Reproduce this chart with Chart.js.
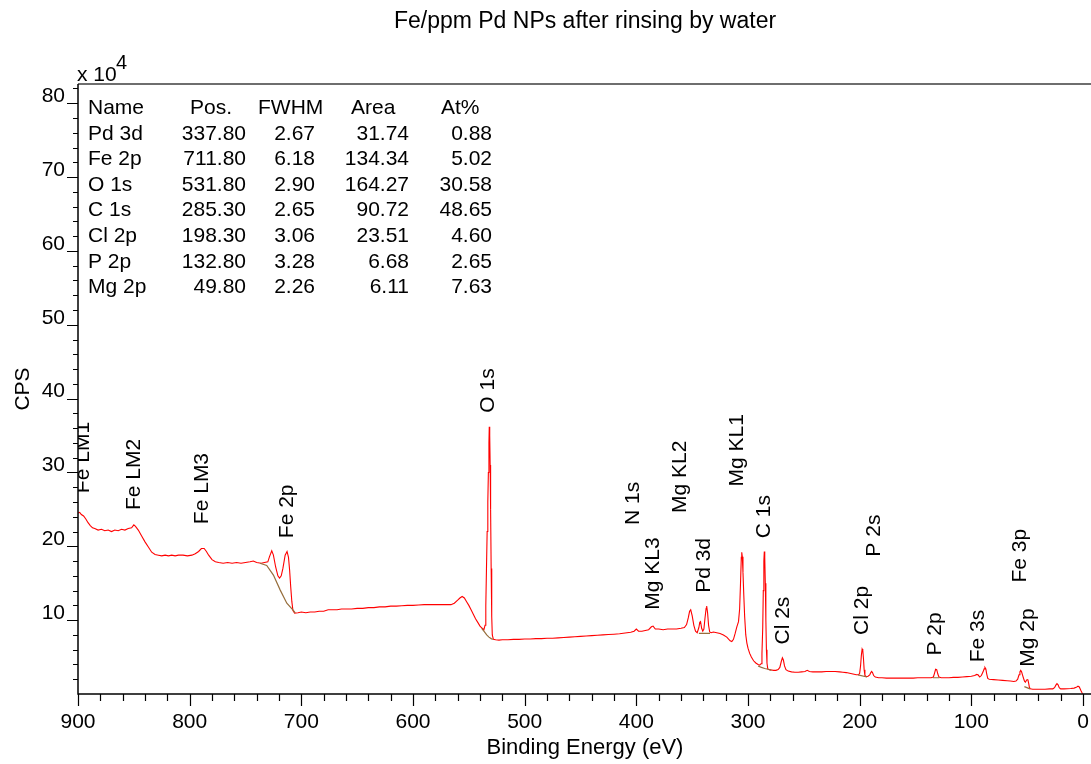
<!DOCTYPE html>
<html>
<head>
<meta charset="utf-8">
<title>Fe/ppm Pd NPs after rinsing by water</title>
<script src="https://cdn.jsdelivr.net/npm/chart.js@4.4.1/dist/chart.umd.min.js"></script>
<style>
  html, body { margin: 0; padding: 0; background: #fff; }
  #wrap { width: 1091px; height: 764px; }
</style>
</head>
<body>
<div id="wrap"><canvas id="xpsChart" width="1091" height="764"></canvas></div>
<script>
// Survey spectrum: binding energy (eV) and counts (x 10^4 CPS)
const energy = [
  900, 898.5, 897, 895, 893, 891, 889, 887, 885, 882, 879, 876, 873, 870, 867, 864, 861, 858, 855, 852,
  850, 848.5, 846, 843, 840, 837, 834, 831, 828, 825, 822, 819, 816, 813, 810, 806, 802, 798, 795, 792,
  789.5, 787, 785, 783, 780, 777, 774, 770, 766, 762, 758, 754, 750, 746, 743, 740, 736, 733, 730, 728.5,
  726.5, 725, 723, 721, 719.5, 718, 716.5, 714.5, 712.8, 711.5, 710.5, 709.5, 708.5, 707.5, 706, 703, 700, 696, 692, 688,
  684, 680, 676, 672, 668, 664, 660, 655, 650, 645, 640, 635, 630, 625, 620, 615, 610, 605, 600, 595,
  590, 585, 580, 575, 570, 566, 563, 560, 558, 556, 554, 552, 550, 548, 546, 544, 542, 540, 538, 536.5,
  535.5, 534.8, 534.2, 533.6, 533, 532.5, 532, 531.7, 531.3, 530.9, 530.5, 530, 529.5, 529, 528, 526, 523, 520, 515, 510,
  505, 500, 495, 490, 485, 480, 475, 470, 465, 460, 455, 450, 445, 440, 435, 430, 425, 420, 415, 410,
  405, 402, 400, 398, 395, 392, 389, 386.5, 385, 383, 380, 376, 372, 368, 364, 360, 357, 355, 353.5, 352.3,
  351.3, 350, 348.5, 347, 345.5, 344, 343.2, 342.5, 341.5, 340.5, 339.5, 338.5, 337.5, 337, 336.2, 335.3, 334.3, 333, 331, 328,
  325, 322, 319, 316, 314.5, 313, 311.5, 310, 308.5, 307.5, 306.7, 306, 305.6, 305.1, 304.5, 303.8, 303, 302, 301, 300,
  298.5, 297, 295, 293, 291, 289.5, 288.3, 287.5, 286.8, 286.3, 285.8, 285.4, 285, 284.5, 284, 283.5, 283, 282.3, 281, 279,
  277, 275, 273, 271.5, 270.2, 269.2, 268.3, 267.3, 266, 264, 261, 258, 255, 252, 249, 247, 245, 242, 238, 234,
  230, 226, 222, 218, 215, 212, 209, 206, 203, 201, 200, 199.2, 198.5, 197.8, 197.2, 196.6, 196, 195.3, 194, 192.5,
  191, 190, 189.3, 188.5, 187.5, 186, 183, 180, 176, 172, 168, 164, 160, 156, 152, 148, 144, 140, 136, 134,
  133, 132, 131, 130, 129, 127, 124, 120, 116, 112, 108, 104, 100, 97, 95.2, 94, 92.5, 91, 89.5, 88.5,
  87.8, 87, 86.2, 85.3, 84, 80, 76, 72, 68, 65, 62, 60, 58.5, 57.3, 56.5, 55.8, 55, 54.2, 53.2, 52.3,
  51.5, 50.7, 50, 49.3, 48.6, 48, 47.3, 45, 42, 38, 34, 30, 27, 25.5, 24.3, 23.3, 22.3, 21.3, 20, 17,
  14, 11, 8, 6, 4.5, 3.3, 2, 1, 0.3
];
const cps = [
  24.5, 24.6, 24.3, 24.1, 23.7, 23.2, 22.8, 22.5, 22.4, 22.2, 22.3, 22.1, 22.2, 22.0, 22.2, 22.1, 22.3, 22.2, 22.4, 22.5,
  22.9, 22.7, 22.2, 21.4, 20.6, 19.9, 19.2, 18.9, 18.8, 18.7, 18.8, 18.7, 18.8, 18.7, 18.8, 18.8, 18.7, 18.8, 19.0, 19.3,
  19.7, 19.7, 19.3, 18.8, 18.2, 17.9, 17.8, 17.7, 17.8, 17.7, 17.8, 17.7, 17.8, 17.9, 18.0, 17.8, 17.7, 17.8, 17.9, 18.6,
  19.4, 18.8, 17.2, 16.0, 15.7, 16.0, 17.0, 18.8, 19.3, 18.5, 16.8, 14.5, 12.5, 11.3, 10.95, 11.0, 11.1, 11.0, 11.1, 11.1,
  11.2, 11.2, 11.4, 11.4, 11.4, 11.5, 11.5, 11.5, 11.6, 11.6, 11.7, 11.7, 11.8, 11.8, 11.9, 11.9, 11.95, 12.0, 12.0, 12.05,
  12.1, 12.1, 12.1, 12.1, 12.1, 12.1, 12.3, 12.7, 13.0, 13.2, 13.0, 12.5, 12.0, 11.4, 10.8, 10.2, 9.7, 9.2, 8.9, 8.7,
  9.3, 12, 17, 22, 26, 30, 34, 36.2, 35, 31, 25, 17, 10.5, 8, 7.4, 7.35, 7.3, 7.35, 7.35, 7.4,
  7.4, 7.45, 7.45, 7.5, 7.5, 7.55, 7.55, 7.6, 7.65, 7.7, 7.75, 7.8, 7.85, 7.9, 7.95, 8.0, 8.05, 8.1, 8.15, 8.25,
  8.35, 8.5, 8.8, 8.5, 8.5, 8.6, 8.7, 9.1, 9.2, 8.8, 8.8, 8.7, 8.8, 8.8, 8.8, 8.9, 9.0, 9.4, 10.3, 11.2,
  11.4, 10.6, 9.3, 8.5, 8.3, 9.0, 9.7, 9.8, 8.9, 8.5, 8.8, 10.3, 11.6, 11.9, 11.0, 9.3, 8.4, 8.3, 8.4, 8.3,
  8.2, 8.0, 7.7, 7.2, 7.1, 7.4, 8.2, 9.1, 9.8, 11.5, 15, 18.5, 19.2, 18.6, 16.5, 13.5, 10.5, 8.0, 6.9, 6.2,
  5.5, 5.0, 4.5, 4.2, 4.0, 3.9, 4.1, 5.5, 9, 14, 18, 19.3, 18.5, 15, 10, 6, 4.2, 3.4, 3.3, 3.25,
  3.2, 3.2, 3.3, 3.6, 4.4, 4.9, 4.6, 3.8, 3.3, 3.1, 3.0, 2.95, 2.95, 3.0, 3.05, 3.2, 3.05, 3.0, 3.0, 3.0,
  3.05, 3.05, 3.05, 3.0, 2.95, 2.9, 2.8, 2.7, 2.6, 2.6, 2.8, 3.8, 5.2, 6.1, 5.9, 4.8, 3.3, 2.5, 2.35, 2.4,
  2.6, 2.9, 3.05, 2.9, 2.5, 2.3, 2.2, 2.2, 2.15, 2.15, 2.15, 2.15, 2.15, 2.15, 2.15, 2.2, 2.2, 2.2, 2.2, 2.3,
  2.8, 3.35, 3.3, 2.7, 2.3, 2.2, 2.2, 2.2, 2.25, 2.25, 2.3, 2.35, 2.4, 2.5, 2.65, 2.6, 2.3, 2.5, 3.0, 3.4,
  3.6, 3.4, 2.7, 2.1, 2.0, 1.95, 1.9, 1.85, 1.8, 1.75, 1.7, 1.75, 2.0, 2.6, 3.0, 3.2, 3.0, 2.6, 2.1, 1.7,
  1.6, 1.85, 1.95, 1.9, 1.4, 0.9, 0.7, 0.65, 0.65, 0.65, 0.65, 0.7, 0.7, 0.85, 1.2, 1.4, 1.25, 0.85, 0.7, 0.7,
  0.72, 0.75, 0.8, 0.9, 1.05, 0.95, 0.5, 0.2, 0.05
];

// Background lines under the fitted regions (null = gap between regions)
const bgEnergy = [737, 731, 725, 719, 713, 707, 705.5, 620, 538.5, 536, 534, 532, 530, 528.5, 440, 344, 334, 320,
  291, 288, 285, 282, 279, 240, 201.5, 193.5, 160, 134.5, 128.5, 90, 52.5, 47.5];
const bgCps = [17.7, 17.4, 16.1, 14.1, 12.3, 11.3, 11.0, null, 8.9, 8.4, 8.0, 7.7, 7.5, 7.4, null, 8.2, 8.2, null,
  3.8, 3.6, 3.45, 3.35, 3.2, null, 2.6, 2.3, null, 2.2, 2.2, null, 1.0, 0.7];

// Peak annotations: name, energy (eV) and height of the label start (x 10^4)
const peakNames = ['Fe LM1', 'Fe LM2', 'Fe LM3', 'Fe 2p', 'O 1s', 'N 1s', 'Mg KL3', 'Mg KL2', 'Pd 3d', 'Mg KL1',
  'C 1s', 'Cl 2s', 'Cl 2p', 'P 2s', 'P 2p', 'Fe 3s', 'Fe 3p', 'Mg 2p'];
const peakEnergy = [895.2, 850, 789, 713, 532.5, 402.7, 384.8, 360.9, 339.4, 309.6,
  285.7, 268.9, 197.3, 187.2, 132.5, 93.8, 55.8, 49];
const peakLabelY = [27.2, 24.9, 23.0, 21.1, 38.1, 22.9, 11.4, 24.5, 13.7, 28.1,
  21.1, 6.7, 8.0, 18.6, 5.2, 4.3, 15.1, 3.7];

// Quantification table
const tableHead = ['Name', 'Pos.', 'FWHM', 'Area', 'At%'];
const tableName = ['Pd 3d', 'Fe 2p', 'O 1s', 'C 1s', 'Cl 2p', 'P 2p', 'Mg 2p'];
const tablePos = ['337.80', '711.80', '531.80', '285.30', '198.30', '132.80', '49.80'];
const tableFwhm = ['2.67', '6.18', '2.90', '2.65', '3.06', '3.28', '2.26'];
const tableArea = ['31.74', '134.34', '164.27', '90.72', '23.51', '6.68', '6.11'];
const tableAt = ['0.88', '5.02', '30.58', '48.65', '4.60', '2.65', '7.63'];

// Axis ticks
const xTicks = [900, 800, 700, 600, 500, 400, 300, 200, 100, 0];
const yTicks = [10, 20, 30, 40, 50, 60, 70, 80];

const FONT = "'Liberation Sans', Arial, sans-serif";

const spectrum = energy.map((e, i) => ({ x: e, y: cps[i] }));
const background = bgEnergy.map((e, i) => ({ x: e, y: bgCps[i] }));

// draws frame, tick marks, titles, table and peak labels
const xpsDecor = {
  id: 'xpsDecor',
  afterDraw(chart) {
    const ctx = chart.ctx;
    const xs = chart.scales.x, ys = chart.scales.y;
    const a = chart.chartArea;
    ctx.save();

    // frame
    ctx.strokeStyle = '#6e6e6e';
    ctx.lineWidth = 2;
    ctx.beginPath();
    ctx.moveTo(a.left, a.top);
    ctx.lineTo(chart.width, a.top);
    ctx.stroke();
    ctx.strokeStyle = '#000';
    ctx.lineWidth = 1.5;
    ctx.beginPath();
    ctx.moveTo(a.left, a.top);
    ctx.lineTo(a.left, a.bottom);
    ctx.lineTo(chart.width, a.bottom);
    ctx.stroke();

    // tick marks
    ctx.lineWidth = 1.2;
    ctx.beginPath();
    for (let v = 0; v <= 900; v += 20) {
      const px = Math.round(xs.getPixelForValue(v)) + 0.5;
      const len = v % 100 === 0 ? 12 : 7;
      ctx.moveTo(px, a.bottom);
      ctx.lineTo(px, a.bottom + len);
    }
    for (let v = 2; v <= 82; v += 2) {
      const py = Math.round(ys.getPixelForValue(v)) + 0.5;
      const len = v % 10 === 0 ? 11 : 5;
      ctx.moveTo(a.left, py);
      ctx.lineTo(a.left - len, py);
    }
    ctx.stroke();

    ctx.fillStyle = '#000';
    // titles
    ctx.textAlign = 'center';
    ctx.textBaseline = 'middle';
    ctx.font = '23px ' + FONT;
    ctx.fillText('Fe/ppm Pd NPs after rinsing by water', 585, 22);
    ctx.font = '22px ' + FONT;
    ctx.fillText('Binding Energy (eV)', 585, 748);

    // exponent
    ctx.font = '21px ' + FONT;
    ctx.textAlign = 'left';
    ctx.textBaseline = 'alphabetic';
    ctx.fillText('x 10', 77, 81);
    ctx.font = '20px ' + FONT;
    ctx.fillText('4', 116, 69);

    // y title
    ctx.save();
    ctx.translate(23, 389);
    ctx.rotate(-Math.PI / 2);
    ctx.font = '21px ' + FONT;
    ctx.textAlign = 'center';
    ctx.textBaseline = 'middle';
    ctx.fillText('CPS', 0, 0);
    ctx.restore();

    // table
    ctx.font = '21px ' + FONT;
    ctx.textBaseline = 'alphabetic';
    const base = 114, step = 25.6;
    ctx.textAlign = 'left';
    ctx.fillText(tableHead[0], 88, base);
    ctx.fillText(tableHead[1], 190, base);
    ctx.fillText(tableHead[2], 258, base);
    ctx.fillText(tableHead[3], 351, base);
    ctx.fillText(tableHead[4], 441, base);
    tableName.forEach((n, i) => {
      const yb = base + step * (i + 1);
      ctx.textAlign = 'left';
      ctx.fillText(n, 88, yb);
      ctx.textAlign = 'right';
      ctx.fillText(tablePos[i], 246, yb);
      ctx.fillText(tableFwhm[i], 315, yb);
      ctx.fillText(tableArea[i], 409, yb);
      ctx.fillText(tableAt[i], 492, yb);
    });

    // peak labels
    ctx.save();
    ctx.beginPath();
    ctx.rect(a.left, a.top, a.right - a.left, a.bottom - a.top);
    ctx.clip();
    ctx.font = '21px ' + FONT;
    ctx.textAlign = 'left';
    ctx.textBaseline = 'middle';
    peakNames.forEach((n, i) => {
      ctx.save();
      ctx.translate(xs.getPixelForValue(peakEnergy[i]), ys.getPixelForValue(peakLabelY[i]));
      ctx.rotate(-Math.PI / 2);
      ctx.fillText(n, 0, 0);
      ctx.restore();
    });
    ctx.restore();

    ctx.restore();
  }
};

const ctx = document.getElementById('xpsChart').getContext('2d');
const xpsChart = new Chart(ctx, {
  type: 'line',
  data: {
    datasets: [
      {
        label: 'Background',
        data: background,
        borderColor: 'rgb(150, 110, 60)',
        borderWidth: 1.2,
        pointRadius: 0,
        spanGaps: false,
        order: 0,
      },
      {
        label: 'Spectrum',
        data: spectrum,
        borderColor: '#ff0000',
        borderWidth: 1.1,
        pointRadius: 0,
        order: 1,
      },
    ],
  },
  options: {
    responsive: false,
    animation: false,
    layout: { padding: { top: 84, right: 8, left: 0, bottom: 0 } },
    plugins: {
      legend: { display: false },
      tooltip: { enabled: false },
      title: { display: false },
    },
    scales: {
      x: {
        type: 'linear',
        reverse: true,
        min: 0,
        max: 900,
        grid: { display: false, drawTicks: false },
        border: { display: false },
        afterBuildTicks: (s) => { s.ticks = xTicks.map(v => ({ value: v })); },
        afterFit: (s) => { s.height = 70; s.paddingLeft = 0; s.paddingRight = 0; },
        ticks: {
          font: { family: FONT, size: 21 },
          color: '#000',
          padding: 16,
          maxRotation: 0,
          autoSkip: false,
        },
      },
      y: {
        type: 'linear',
        min: 0,
        max: 82.6,
        grid: { display: false, drawTicks: false },
        border: { display: false },
        afterBuildTicks: (s) => { s.ticks = yTicks.map(v => ({ value: v })); },
        afterFit: (s) => { s.width = 78; s.paddingTop = 0; s.paddingBottom = 0; },
        ticks: {
          font: { family: FONT, size: 21 },
          color: '#000',
          padding: 13,
          labelOffset: -7,
          autoSkip: false,
        },
      },
    },
  },
  plugins: [xpsDecor],
});
</script>
</body>
</html>
